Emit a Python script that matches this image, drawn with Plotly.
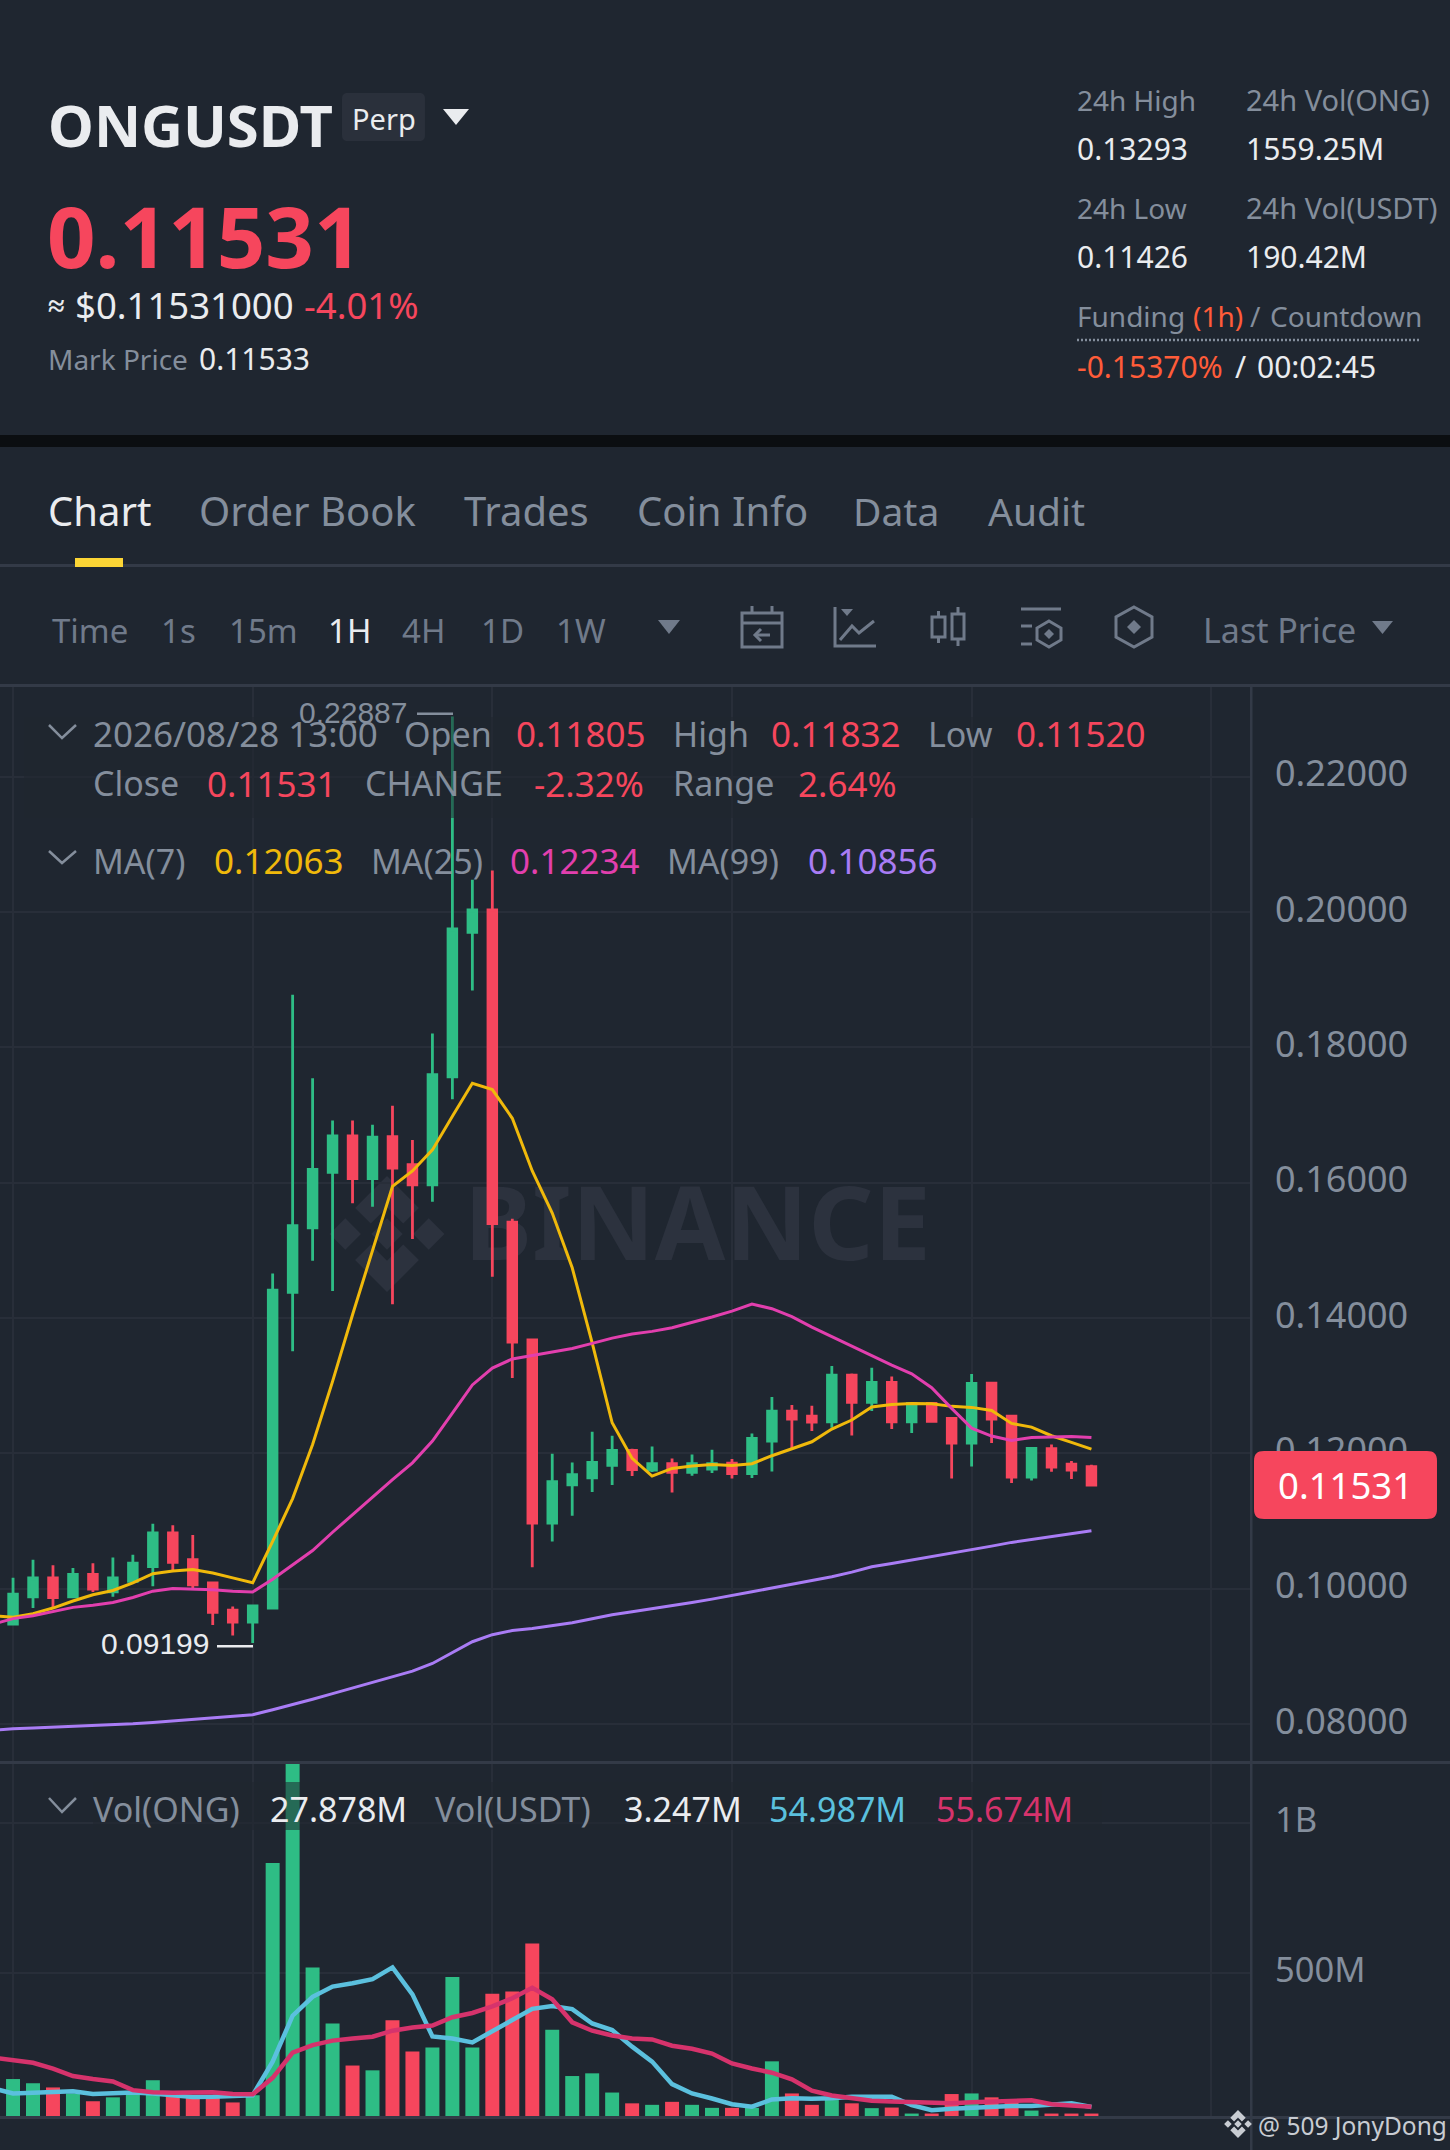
import plotly.graph_objects as go

W, H = 1450, 2150
BG = "#1f2630"
GRID = "#282e39"
SEP = "#333a47"
GREEN = "#2ebd85"
RED = "#f6465d"
GRAY = "#848e9c"
WHITE = "#eaecef"
YELLOW = "#f0b90b"
PINK = "#e23fae"
PURPLE = "#a97cf5"
BLUE = "#5bc0de"
CRIMSON = "#d6336c"
ORANGE = "#ff5c39"
FONT = "Noto Sans"

HOURS = list(range(55))
LINE_HOURS = list(range(-1, 55))

OPEN = [.09476, .09881, .10161, .09881, .10213, .09953, .10109, .10327, .10824, .1043, .10088, .09684, .09508, .09715,
        .1438, .15334, .16153, .16693, .1606, .16682, .16268, .15967, .17564, .19699, .20031, .15417, .13676, .1097,
        .11537, .1164, .11823, .12044, .11754, .11847, .11719, .11768, .11857, .117, .12182, .12626, .12552, .12468,
        .13158, .12754, .13049, .12468, .12739, .12517, .12153, .13039, .12552, .1165, .12069, .11842, .11805]
HIGH = [.10161, .1043, .10347, .10306, .10378, .10461, .10503, .10959, .10938, .10793, .10088, .09736, .09746, .1466,
        .18777, .17543, .16921, .16921, .16858, .17138, .1663, .18206, .22887, .20477, .20612, .15469, .13697, .11996,
        .11867, .1232, .12261, .12069, .12103, .11926, .11985, .12054, .11916, .12296, .12833, .12714, .12704, .13291,
        .13182, .13266, .13138, .12749, .12749, .12517, .13172, .13049, .12552, .12089, .12133, .11887, .11832]
LOW = [.09476, .09715, .09715, .09881, .09953, .09881, .10109, .10036, .10264, .09995, .09466, .09311, .09199, .09694,
       .1351, .14847, .14401, .15697, .15645, .14204, .15168, .15718, .17232, .18839, .14609, .13116, .10316, .107,
       .11079, .11429, .11532, .11665, .11724, .11424, .1167, .11709, .11631, .11635, .11734, .12074, .1233, .12379,
       .12266, .12626, .1236, .123, .12453, .11631, .11808, .12153, .11562, .11601, .11729, .11621, .1152]
CLOSE = [.09922, .10161, .0987, .10213, .09995, .10161, .10378, .10824, .10389, .10057, .09653, .09508, .09746, .14412,
         .15366, .16195, .16693, .1606, .16672, .16216, .15967, .17595, .19751, .20031, .15397, .13644, .1097, .11581,
         .11685, .11867, .12044, .11759, .11847, .11719, .11847, .11847, .117, .12222, .12626, .12507, .12463, .13158,
         .12754, .13049, .12468, .12739, .12473, .12153, .13034, .12507, .1165, .12074, .11798, .11754, .11531]

MA7 = [.09601, .0958, .09632, .09715, .09819, .09912, .09974, .10088, .10223, .10264, .10285, .10233, .10161, .10088,
       .107, .11332, .12131, .13064, .14049, .14982, .15946, .16174, .16485, .16983, .1747, .17377, .16952, .16174,
       .15552, .14743, .13634, .12453, .11926, .11665, .11778, .11813, .11837, .11823, .11847, .11966, .12064, .12172,
       .1236, .12493, .12685, .12724, .12739, .12734, .12695, .1268, .12635, .12443, .12389, .12261, .12163, .12063]
MA25 = [.09476, .09559, .09601, .09663, .09725, .09756, .09798, .0987, .09964, .10005, .09995, .09985, .09964, .09953,
        .1014, .10347, .10565, .10835, .11094, .11364, .11612, .11861, .12182, .12597, .13012, .13261, .13396, .13447,
        .13499, .13551, .13626, .13704, .13764, .13803, .13857, .13931, .14015, .14103, .14207, .14138, .1402, .13867,
        .13724, .13591, .13448, .13305, .13177, .1297, .12665, .12374, .12256, .12192, .12236, .12246, .12251, .12234]
MA99 = [.07911, .07932, .07942, .07953, .07963, .07973, .07984, .08004, .08025, .08046, .08067, .08087, .08108, .08139,
        .08211, .08284, .08367, .0845, .08533, .08616, .08699, .08782, .08896, .09051, .09217, .09321, .09383, .09414,
        .09456, .09497, .09557, .09616, .0966, .09704, .09749, .09798, .09847, .09897, .09956, .1001, .10064, .10118,
        .10177, .10246, .10325, .10374, .10424, .10473, .10522, .10576, .1063, .10685, .10729, .10773, .10813, .10856]

VOLUME = [148, 134, 120, 100, 74, 87, 97, 144, 94, 89, 94, 70, 94, 868, 1200, 520, 333, 193, 177, 344, 240, 253, 488, 253,
          432, 440, 600, 312, 158, 167, 103, 67, 62, 72, 62, 52, 52, 52, 207, 100, 62, 78, 67, 51, 53, 33, 33, 98, 100,
          87, 72, 43, 33, 33, 33]
VOL_MA_BLUE = [117, 100, 102, 106, 107, 98, 99, 103, 100, 94, 88, 89, 91, 94, 206, 359, 422, 456, 467, 481, 520, 430, 290,
               283, 270, 308, 344, 382, 391, 381, 333, 311, 256, 206, 131, 100, 83, 64, 56, 80, 84, 82, 84, 89, 89, 89,
               61, 44, 49, 53, 56, 58, 58, 64, 67, 55]
VOL_MA_RED = [219, 211, 202, 183, 158, 148, 140, 111, 104, 102, 102, 104, 98, 97, 152, 236, 261, 276, 283, 289, 309, 320,
              326, 354, 368, 390, 417, 452, 414, 337, 309, 293, 283, 280, 259, 249, 233, 200, 183, 169, 147, 109, 93, 84,
              76, 73, 70, 67, 67, 71, 74, 77, 77, 64, 60, 56]

PRICE_TICKS = [.08, .10, .12, .14, .16, .18, .20, .22]
VOL_TICKS = [500, 1000]
VOL_TICK_LABELS = ["500M", "1B"]
GRID_HOURS = [0, 12, 24, 36, 48, 60]

bar_colors = [GREEN if c >= o else RED for o, c in zip(OPEN, CLOSE)]


def fx(px):
    return px / W


def fy(py):
    return 1 - py / H


annotations = []
shapes = []


def txt(px, py, s, size, color, anchor="left", family=FONT):
    annotations.append(dict(x=fx(px), y=fy(py), xref="paper", yref="paper", text=s, showarrow=False,
                            xanchor=anchor, yanchor="middle", align=anchor,
                            font=dict(size=size, color=color, family=family), borderpad=0, borderwidth=0))


def rect(x0, y0, x1, y1, fill, opacity=1, layer="above"):
    shapes.append(dict(type="rect", xref="paper", yref="paper", x0=fx(x0), x1=fx(x1), y0=fy(y0), y1=fy(y1),
                       fillcolor=fill, opacity=opacity, line=dict(width=0), layer=layer))


def poly(points, color, width=0, fill=None, closed=False, layer="above"):
    p = "M " + " L ".join(f"{fx(a):.5f} {fy(b):.5f}" for a, b in points) + (" Z" if closed else "")
    shapes.append(dict(type="path", xref="paper", yref="paper", path=p, layer=layer, fillcolor=fill or "rgba(0,0,0,0)",
                       line=dict(color=color, width=width)))


def rounded(x0, y0, x1, y1, r, fill):
    k = r * 0.3
    pts = (f"M {fx(x0 + r):.5f} {fy(y0):.5f} L {fx(x1 - r):.5f} {fy(y0):.5f} "
           f"C {fx(x1 - k):.5f} {fy(y0):.5f} {fx(x1):.5f} {fy(y0 + k):.5f} {fx(x1):.5f} {fy(y0 + r):.5f} "
           f"L {fx(x1):.5f} {fy(y1 - r):.5f} "
           f"C {fx(x1):.5f} {fy(y1 - k):.5f} {fx(x1 - k):.5f} {fy(y1):.5f} {fx(x1 - r):.5f} {fy(y1):.5f} "
           f"L {fx(x0 + r):.5f} {fy(y1):.5f} "
           f"C {fx(x0 + k):.5f} {fy(y1):.5f} {fx(x0):.5f} {fy(y1 - k):.5f} {fx(x0):.5f} {fy(y1 - r):.5f} "
           f"L {fx(x0):.5f} {fy(y0 + r):.5f} "
           f"C {fx(x0):.5f} {fy(y0 + k):.5f} {fx(x0 + k):.5f} {fy(y0):.5f} {fx(x0 + r):.5f} {fy(y0):.5f} Z")
    shapes.append(dict(type="path", xref="paper", yref="paper", path=pts, fillcolor=fill, line=dict(width=0), layer="above"))


def binance_logo(cx, cy, r, color, layer):
    s = r * 0.27
    for dx, dy in [(-r * 0.72, 0), (r * 0.72, 0), (0, 0)]:
        poly([(cx + dx, cy + dy - s), (cx + dx + s, cy + dy), (cx + dx, cy + dy + s), (cx + dx - s, cy + dy)],
             color, fill=color, closed=True, layer=layer)
    w = r * 0.27
    poly([(cx, cy - r), (cx + r * 0.55, cy - r * 0.45), (cx + r * 0.55 - w, cy - r * 0.45 + w),
          (cx, cy - r + w * 2), (cx - r * 0.55 + w, cy - r * 0.45 + w), (cx - r * 0.55, cy - r * 0.45)],
         color, fill=color, closed=True, layer=layer)
    poly([(cx, cy + r), (cx + r * 0.55, cy + r * 0.45), (cx + r * 0.55 - w, cy + r * 0.45 - w),
          (cx, cy + r - w * 2), (cx - r * 0.55 + w, cy + r * 0.45 - w), (cx - r * 0.55, cy + r * 0.45)],
         color, fill=color, closed=True, layer=layer)


# header
rect(0, 435, W, 447, "#0b0e11")
txt(48, 124, "<b>ONGUSDT</b>", 58, WHITE)
rounded(342, 93, 425, 141, 6, "#2a303b")
txt(384, 119, "Perp", 29, WHITE, "center")
poly([(443, 109), (469, 109), (456, 125)], WHITE, fill=WHITE, closed=True)
txt(47, 235, "<b>0.11531</b>", 85, RED)
txt(48, 305, "<b>≈</b>", 30, WHITE)
txt(75, 305, "$0.11531000", 36.5, WHITE)
txt(304, 305, "-4.01%", 36.5, RED)
txt(48, 358.5, "Mark Price", 28, GRAY)
txt(199, 358.5, "0.11533", 30, WHITE)

txt(1077, 100, "24h High", 28, GRAY)
txt(1246, 100, "24h Vol(ONG)", 29, GRAY)
txt(1077, 148, "0.13293", 30, WHITE)
txt(1246, 148, "1559.25M", 30, WHITE)
txt(1077, 208, "24h Low", 28, GRAY)
txt(1246, 208, "24h Vol(USDT)", 29, GRAY)
txt(1077, 256, "0.11426", 30, WHITE)
txt(1246, 256, "190.42M", 30, WHITE)
txt(1077, 316.5, "Funding", 28, GRAY)
txt(1193, 316.5, "(1h)", 28, ORANGE)
txt(1250, 316.5, "/", 28, GRAY)
txt(1270, 316.5, "Countdown", 28, GRAY)
shapes.append(dict(type="line", xref="paper", yref="paper", x0=fx(1077), x1=fx(1421), y0=fy(340), y1=fy(340),
                   line=dict(color=GRAY, width=2.5, dash="2px 2px"), layer="above"))
txt(1077, 367, "-0.15370%", 30, ORANGE)
txt(1235, 367, "/", 30, WHITE)
txt(1257, 367, "00:02:45", 30, WHITE)

# tabs
txt(48, 511, "Chart", 40, WHITE)
txt(199, 511, "Order Book", 40, GRAY)
txt(464, 511, "Trades", 40, GRAY)
txt(637, 511, "Coin Info", 40, GRAY)
txt(853, 511, "Data", 39, GRAY)
txt(988, 511, "Audit", 39, GRAY)
rect(0, 564, W, 567, SEP)
rect(75, 558, 123, 567, "#fcd535")

# toolbar
DIM = "#707a8a"
txt(52, 630, "Time", 33, DIM)
txt(161, 630, "1s", 33, DIM)
txt(229, 630, "15m", 33, DIM)
txt(328, 630, "1H", 33, WHITE)
txt(402, 630, "4H", 33, DIM)
txt(481, 630, "1D", 33, DIM)
txt(556, 630, "1W", 33, DIM)
poly([(658, 620), (680, 620), (669, 634)], DIM, fill=DIM, closed=True)
txt(1203, 630, "Last Price", 34, DIM)
poly([(1372, 621), (1393, 621), (1382.5, 634)], DIM, fill=DIM, closed=True)
rect(0, 684, W, 687, SEP)

poly([(742, 613), (782, 613), (782, 647), (742, 647)], DIM, width=3, closed=True)
poly([(752, 606), (752, 613)], DIM, width=3)
poly([(772, 606), (772, 613)], DIM, width=3)
poly([(742, 623), (782, 623)], DIM, width=3)
poly([(770, 635), (755, 635)], DIM, width=3)
poly([(761, 629), (755, 635), (761, 641)], DIM, width=3)

poly([(835, 607), (835, 646), (876, 646)], DIM, width=3)
poly([(841, 609), (853, 609), (847, 616)], DIM, fill=DIM, closed=True)
poly([(840, 640), (852, 626), (859, 633), (874, 621)], DIM, width=3)

poly([(932, 617), (945, 617), (945, 637), (932, 637)], DIM, width=3, closed=True)
poly([(938.5, 611), (938.5, 617)], DIM, width=3)
poly([(938.5, 637), (938.5, 643)], DIM, width=3)
poly([(952, 614), (964, 614), (964, 639), (952, 639)], DIM, width=3, closed=True)
poly([(958, 607), (958, 614)], DIM, width=3)
poly([(958, 639), (958, 646)], DIM, width=3)

poly([(1021, 609), (1061, 609)], DIM, width=3)
poly([(1021, 626), (1032, 626)], DIM, width=3)
poly([(1021, 644), (1032, 644)], DIM, width=3)
poly([(1049, 621), (1061, 628), (1061, 640), (1049, 647), (1037, 640), (1037, 628)], DIM, width=3, closed=True)
poly([(1049, 629), (1054, 634), (1049, 639), (1044, 634)], DIM, fill=DIM, closed=True)

poly([(1134, 607), (1152, 617), (1152, 637), (1134, 647), (1116, 637), (1116, 617)], DIM, width=3, closed=True)
poly([(1134, 620), (1141, 627), (1134, 634), (1127, 627)], DIM, fill=DIM, closed=True)

# pane structure
rect(0, 1761, W, 1764, SEP)
rect(0, 2116, W, 2119, SEP)
rect(1250, 687, 1252.5, H, SEP)

# watermark under the candles
WM = "#2c323e"
shapes.append(dict(type="rect", xref="paper", yref="paper", x0=fx(467), x1=fx(928), y0=fy(1267), y1=fy(1187),
                   fillcolor="rgba(0,0,0,0)", line=dict(width=0), layer="below",
                   label=dict(text="<b>BINANCE</b>", font=dict(size=102, color=WM, family=FONT),
                              textposition="middle center")))
binance_logo(387, 1234, 58, WM, "below")

# legend veils
rect(24, 717, 1200, 818, BG, 0.55)
rect(93, 1782, 1102, 1830, BG, 0.55)

# price legend
poly([(49, 725), (62, 738), (76, 725)], GRAY, width=2.5)
txt(93, 733.5, "2026/08/28 13:00", 35, GRAY)
txt(404, 733.5, "Open", 34, GRAY)
txt(516, 733.5, "0.11805", 35, RED)
txt(673, 733.5, "High", 34, GRAY)
txt(771, 733.5, "0.11832", 35, RED)
txt(928, 733.5, "Low", 34, GRAY)
txt(1016, 733.5, "0.11520", 35, RED)
txt(93, 783, "Close", 34, GRAY)
txt(207, 783, "0.11531", 35, RED)
txt(365, 783, "CHANGE", 34, GRAY)
txt(534, 783, "-2.32%", 35, RED)
txt(673, 783, "Range", 34, GRAY)
txt(798, 783, "2.64%", 35, RED)
poly([(49, 851), (62, 863), (76, 851)], GRAY, width=2.5)
txt(93, 860.5, "MA(7)", 34, GRAY)
txt(214, 860.5, "0.12063", 35, YELLOW)
txt(371, 860.5, "MA(25)", 34, GRAY)
txt(510, 860.5, "0.12234", 35, PINK)
txt(667, 860.5, "MA(99)", 34, GRAY)
txt(808, 860.5, "0.10856", 35, PURPLE)

# volume legend
poly([(49, 1798), (62, 1812), (76, 1798)], GRAY, width=2.5)
txt(93, 1808.5, "Vol(ONG)", 34, GRAY)
txt(270, 1808.5, "27.878M", 34, WHITE)
txt(435, 1808.5, "Vol(USDT)", 34, GRAY)
txt(624, 1808.5, "3.247M", 34, WHITE)
txt(769, 1808.5, "54.987M", 34, BLUE)
txt(936, 1808.5, "55.674M", 34, CRIMSON)

# extremes
txt(407, 712, "0.22887", 30, GRAY, "right", "Liberation Sans")
rect(417, 712.5, 453, 715, GRAY)
txt(209, 1643, "0.09199", 30, WHITE, "right", "Liberation Sans")
rect(217, 1645, 253, 1647.5, WHITE)

# last price tag
rounded(1254, 1451, 1437, 1519, 10, RED)
txt(1345.5, 1485, "0.11531", 36.5, "#ffffff", "center")

# photographer's mark
binance_logo(1238, 2124, 14, "#c8ccd2", "above")
txt(1258, 2125, "@ 509 JonyDong", 24.5, "#c8ccd2")

fig = go.Figure()
fig.add_trace(go.Candlestick(x=HOURS, open=OPEN, high=HIGH, low=LOW, close=CLOSE, xaxis="x", yaxis="y",
                             increasing=dict(line=dict(color=GREEN, width=2.8), fillcolor=GREEN),
                             decreasing=dict(line=dict(color=RED, width=2.8), fillcolor=RED),
                             whiskerwidth=0, hoverinfo="skip"))
for vals, col in [(MA7, YELLOW), (MA25, PINK), (MA99, PURPLE)]:
    fig.add_trace(go.Scatter(x=LINE_HOURS, y=vals, mode="lines", line=dict(color=col, width=3), xaxis="x", yaxis="y",
                             hoverinfo="skip"))
fig.add_trace(go.Bar(x=HOURS, y=VOLUME, marker=dict(color=bar_colors, line=dict(width=0)), xaxis="x2", yaxis="y2",
                     hoverinfo="skip"))
for vals, col in [(VOL_MA_BLUE, BLUE), (VOL_MA_RED, CRIMSON)]:
    fig.add_trace(go.Scatter(x=LINE_HOURS, y=vals, mode="lines", line=dict(color=col, width=4.5), xaxis="x2", yaxis="y2",
                             hoverinfo="skip"))

X_RANGE = [-0.653, 61.99]
dom_x = [0, 1251 / W]
tickfont = dict(size=36, color=GRAY, family=FONT)
fig.update_layout(
    width=W, height=H, margin=dict(l=0, r=0, t=0, b=0), paper_bgcolor=BG, plot_bgcolor=BG, showlegend=False,
    boxgap=0.38, bargap=0.3, hovermode=False, dragmode=False,
    annotations=annotations, shapes=shapes,
    xaxis=dict(domain=dom_x, range=X_RANGE, anchor="y", tickmode="array", tickvals=GRID_HOURS, showticklabels=False,
               showgrid=True, gridcolor=GRID, gridwidth=2, zeroline=False, showline=False, ticks="",
               rangeslider=dict(visible=False)),
    xaxis2=dict(domain=dom_x, range=X_RANGE, anchor="y2", tickmode="array", tickvals=GRID_HOURS, showticklabels=False,
                showgrid=True, gridcolor=GRID, gridwidth=2, zeroline=False, showline=False, ticks=""),
    yaxis=dict(domain=[fy(1762), fy(687)], range=[.0744, .23325], side="right", anchor="x", tickmode="array",
               tickvals=PRICE_TICKS, tickformat=".5f", tickfont=tickfont, ticks="", ticklabelstandoff=23,
               showgrid=True, gridcolor=GRID, gridwidth=2, zeroline=False, showline=False, ticklabelshift=-3),
    yaxis2=dict(domain=[fy(2117), fy(1763)], range=[21.5, 1201], side="right", anchor="x2", tickmode="array",
                tickvals=VOL_TICKS, ticktext=VOL_TICK_LABELS, tickfont=dict(size=34.5, color=GRAY, family=FONT), ticks="",
                ticklabelstandoff=23, showgrid=True, gridcolor=GRID, gridwidth=2, zeroline=False, showline=False,
                ticklabelshift=-3),
)
fig.write_html("out.html", config=dict(displayModeBar=False, staticPlot=True),
               post_script="document.body.style.margin='0';document.body.style.background='%s';" % BG)
